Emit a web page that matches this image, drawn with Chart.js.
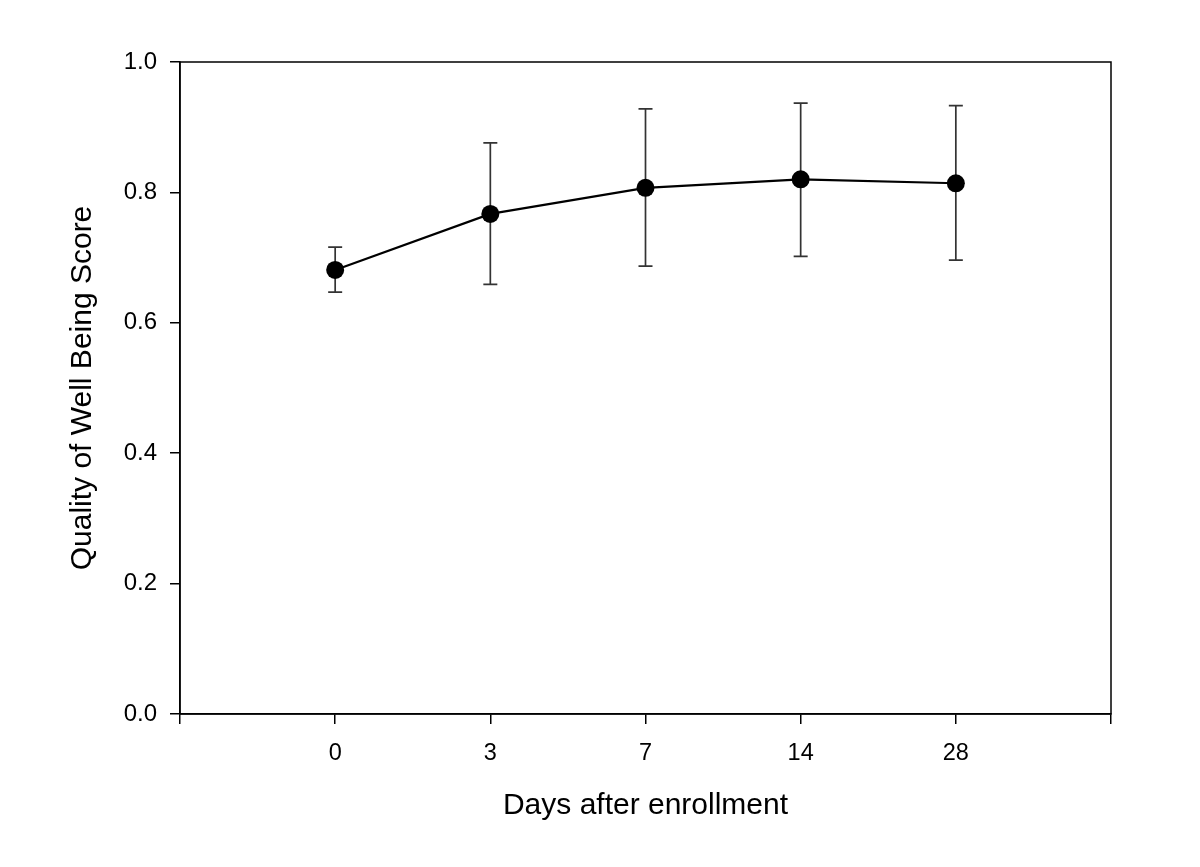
<!DOCTYPE html>
<html>
<head>
<meta charset="utf-8">
<script src="https://cdn.jsdelivr.net/npm/chart.js@4/dist/chart.umd.min.js"></script>
<style>
  html, body { margin: 0; padding: 0; background: #fff; }
  #wrap { width: 1200px; height: 867px; }
</style>
</head>
<body>
<div id="wrap"><canvas id="qwbChart" width="1200" height="867"></canvas></div>
<script>
// data
const dayLabels = ['0', '3', '7', '14', '28'];
const dayPos = [1, 2, 3, 4, 5];
const meanScore = [0.681, 0.767, 0.807, 0.820, 0.814];
const errUpper = [0.716, 0.876, 0.928, 0.937, 0.933];
const errLower = [0.647, 0.659, 0.687, 0.702, 0.696];
const yTicks = [0, 0.2, 0.4, 0.6, 0.8, 1.0];

const FONT = 'Liberation Sans, Arial, Helvetica, sans-serif';

// error bars drawn under the points, via the scales
const errorBars = {
  id: 'errorBars',
  beforeDatasetsDraw (chart) {
    const ctx = chart.ctx;
    const xs = chart.scales.x, ys = chart.scales.y;
    ctx.save();
    ctx.strokeStyle = '#333';
    ctx.lineWidth = 1.7;
    dayPos.forEach((p, i) => {
      let x = xs.getPixelForValue(p);
      let yt = ys.getPixelForValue(errUpper[i]);
      let yb = ys.getPixelForValue(errLower[i]);
      ctx.beginPath();
      ctx.moveTo(x, yt); ctx.lineTo(x, yb);
      ctx.moveTo(x - 7, yt); ctx.lineTo(x + 7, yt);
      ctx.moveTo(x - 7, yb); ctx.lineTo(x + 7, yb);
      ctx.stroke();
    });
    ctx.restore();
  }
};

// box around the plot
const frame = {
  id: 'frame',
  afterDraw (chart) {
    const a = chart.chartArea, ctx = chart.ctx;
    ctx.save();
    ctx.strokeStyle = '#000';
    ctx.lineWidth = 1.5;
    ctx.strokeRect(a.left, a.top, a.right - a.left, a.bottom - a.top);
    ctx.restore();
  }
};

new Chart(document.getElementById('qwbChart'), {
  type: 'line',
  data: {
    datasets: [{
      data: dayPos.map((p, i) => ({x: p, y: meanScore[i]})),
      borderColor: '#000',
      borderWidth: 2.2,
      backgroundColor: '#000',
      pointRadius: 9,
      pointBackgroundColor: '#000',
      pointBorderWidth: 0,
      tension: 0,
      fill: false
    }]
  },
  options: {
    responsive: false,
    animation: false,
    devicePixelRatio: 1,
    layout: { padding: { top: 62, right: 89, left: 0, bottom: 0 } },
    plugins: { legend: { display: false }, tooltip: { enabled: false } },
    scales: {
      x: {
        type: 'linear',
        min: 0,
        max: 6,
        afterFit: (s) => { s.height = 153; },
        afterBuildTicks: (s) => { s.ticks = [0, 1, 2, 3, 4, 5, 6].map(v => ({value: v})); },
        border: { color: '#000', width: 1.5 },
        grid: { drawOnChartArea: false, drawTicks: true, tickLength: 10, color: '#000', lineWidth: 1.5 },
        ticks: {
          color: '#000',
          font: { family: FONT, size: 23.5 },
          padding: 15,
          maxRotation: 0,
          autoSkip: false,
          callback: (v) => {
            let i = dayPos.indexOf(v);
            return i >= 0 ? dayLabels[i] : '';
          }
        },
        title: {
          display: true,
          text: 'Days after enrollment',
          color: '#000',
          font: { family: FONT, size: 30 },
          padding: { top: 0, bottom: 43 }
        }
      },
      y: {
        min: 0,
        max: 1,
        afterFit: (s) => { s.width = 180; },
        afterBuildTicks: (s) => { s.ticks = yTicks.map(v => ({value: v})); },
        border: { color: '#000', width: 1.5 },
        grid: { drawOnChartArea: false, drawTicks: true, tickLength: 10, color: '#000', lineWidth: 1.5 },
        ticks: {
          color: '#000',
          font: { family: FONT, size: 24 },
          padding: 13,
          callback: (v) => Number(v).toFixed(1)
        },
        title: {
          display: true,
          text: 'Quality of Well Being Score',
          color: '#000',
          font: { family: FONT, size: 30 },
          padding: { top: 65, bottom: 0 }
        }
      }
    }
  },
  plugins: [errorBars, frame]
});
</script>
</body>
</html>
